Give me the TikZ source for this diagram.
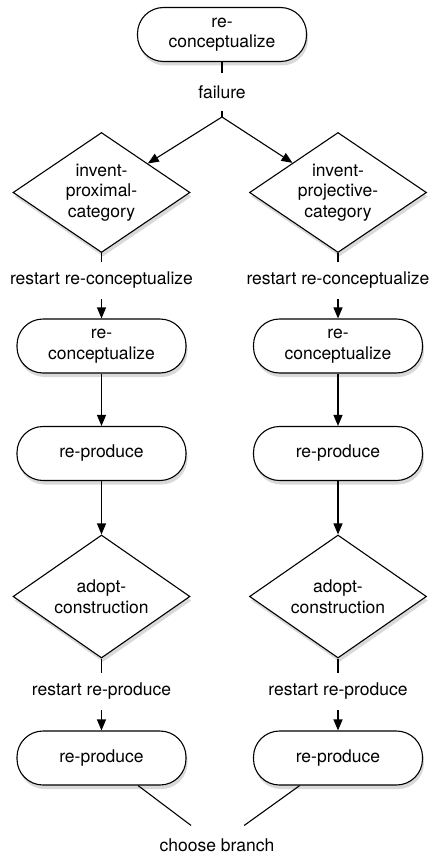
\documentclass[tikz,border=0pt]{standalone}
\usepackage{fontspec}
\setmainfont{TeX Gyre Heros}
\usetikzlibrary{arrows.meta, shapes.geometric, shadows}

\begin{document}
\begin{tikzpicture}[x=1pt, y=-1pt, line width=1.1pt,
      every node/.style={font=\fontsize{17.5}{20.5}\selectfont, align=center},
      term/.style={draw, fill=white, rounded corners=26pt, minimum width=169pt,
                   minimum height=54pt, inner sep=0pt,
                   drop shadow={shadow xshift=1.5pt, shadow yshift=-4pt, opacity=0.3}},
      choice/.style={draw, fill=white, diamond, aspect=1.47, inner sep=0pt,
                     minimum width=177pt, minimum height=120pt,
                     drop shadow={shadow xshift=1.5pt, shadow yshift=-4pt, opacity=0.3}},
      lbl/.style={fill=white, inner xsep=7pt, inner ysep=2pt, minimum height=36pt},
      go/.style={-{Triangle[length=11pt, width=9pt]}}]
      \useasboundingbox (0,0) rectangle (431,856);
      % Top
      \node[term] (rc) at (222,34.5) {re-\\conceptualize};
      \coordinate (fork) at (222,117);
      % Left branch
      \node[choice] (ipc) at (101.5,192.5) {invent-\\proximal-\\category};
      \node[term] (rcl) at (101.5,346) {re-\\conceptualize};
      \node[term] (rpl) at (101.5,453.5) {re-produce};
      \node[choice, minimum height=123pt] (acl) at (101.5,596.5) {adopt-\\construction};
      \node[term] (rpl2) at (101.5,758) {re-produce};
      % Right branch
      \node[choice] (ijc) at (338,192.5) {invent-\\projective-\\category};
      \node[term] (rcr) at (338,346) {re-\\conceptualize};
      \node[term] (rpr) at (338,453.5) {re-produce};
      \node[choice, minimum height=123pt] (acr) at (338,596.5) {adopt-\\construction};
      \node[term] (rpr2) at (338,758) {re-produce};
      % Labels
      \node[lbl] (fail) at (222,92) {failure};
      \node[lbl] (rsl) at (101.5,280.5) {restart re-conceptualize};
      \node[lbl] (rsr) at (338,280.5) {restart re-conceptualize};
      \node[lbl] (rrl) at (101.5,691.5) {restart re-produce};
      \node[lbl] (rrr) at (338,691.5) {restart re-produce};
      \node[lbl, minimum height=38pt] (choose) at (217,845) {choose branch};
      % Connectors
      \draw (rc) -- (fail);
      \draw (fail) -- (fork);
      \draw[go] (fork) -- (ipc);
      \draw[go] (fork) -- (ijc);
      \draw (ipc) -- (rsl); \draw[go] (rsl) -- (rcl);
      \draw (ijc) -- (rsr); \draw[go] (rsr) -- (rcr);
      \draw[go] (rcl) -- (rpl); \draw[go] (rpl) -- (acl);
      \draw[go] (rcr) -- (rpr); \draw[go] (rpr) -- (acr);
      \draw (acl) -- (rrl); \draw[go] (rrl) -- (rpl2);
      \draw (acr) -- (rrr); \draw[go] (rrr) -- (rpr2);
      \draw (rpl2) -- (choose);
      \draw (rpr2) -- (choose);
    \end{tikzpicture}
\end{document}
